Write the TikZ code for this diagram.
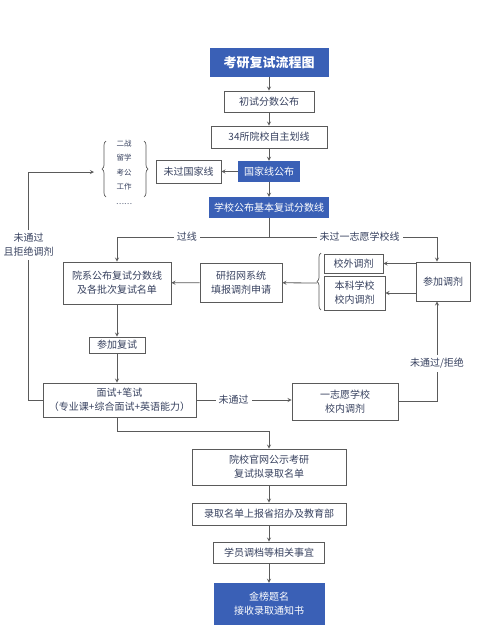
\documentclass[tikz,border=0pt]{standalone}
\usepackage{fontspec}
\setmainfont{Noto Sans CJK SC}
\usepackage{tikz}
\usetikzlibrary{decorations.pathreplacing}

\definecolor{flowblue}{RGB}{58,96,182}
\definecolor{flowline}{RGB}{90,90,90}
\definecolor{flowtext}{RGB}{55,65,95}

\tikzset{
  stepbox/.style={draw=flowline, line width=0.8pt, fill=white, text=flowtext,
    font=\fontsize{10}{14}\selectfont, align=center, inner sep=1pt},
  bluebox/.style={fill=flowblue, text=white,
    font=\fontsize{10}{14}\selectfont, align=center, inner sep=1pt},
  flow/.style={->, >=stealth, draw=flowline, line width=0.8pt},
  passlabel/.style={fill=white, text=flowtext, font=\fontsize{10}{14}\selectfont, align=center, inner sep=3pt},
  bracket/.style={draw=flowline, line width=0.7pt, decorate, decoration={brace, amplitude=4pt}}
}

\begin{document}
\begin{tikzpicture}[x=1pt, y=-1pt]
        \useasboundingbox[fill=white] (0,0) rectangle (487,635);

        % main column
        \node[bluebox, minimum width=119pt, minimum height=29pt, font=\fontsize{13}{15}\selectfont\bfseries] (title) at (269,62.5) {考研复试流程图};
        \node[stepbox, minimum width=90pt, minimum height=21pt] (chushi) at (269,101.5) {初试分数公布};
        \node[stepbox, minimum width=116pt, minimum height=22pt] (huaxian) at (269,137) {34所院校自主划线};
        \node[bluebox, minimum width=62pt, minimum height=21pt] (guojia) at (269,171.5) {国家线公布};
        \node[bluebox, minimum width=120pt, minimum height=21pt] (xuexiao) at (269,207.5) {学校公布基本复试分数线};

        % not passing the national line
        \node[stepbox, minimum width=65pt, minimum height=23pt] (weiguo) at (188.5,171.5) {未过国家线};
        \node[text=flowtext, font=\fontsize{7.5}{14.5}\selectfont, align=center] (options) at (124,172) {二战\\留学\\考公\\工作\\……};
        \draw[bracket] (106,197) -- (106,141);
        \draw[bracket] (144,141) -- (144,197);
        \coordinate (braceL) at (94,172);

        % passing the school line
        \coordinate (split) at (269,237);
        \node[stepbox, minimum width=108pt, minimum height=42pt] (yuanxi) at (117,283) {院系公布复试分数线\\及各批次复试名单};
        \node[stepbox, minimum width=82pt, minimum height=39pt] (yanzhao) at (241,282.5) {研招网系统\\填报调剂申请};
        \node[stepbox, minimum width=59pt, minimum height=19pt] (xiaowai) at (353.5,263.5) {校外调剂};
        \node[stepbox, minimum width=61pt, minimum height=34pt] (benke) at (354.5,293) {本科学校\\校内调剂};
        \node[stepbox, minimum width=54pt, minimum height=39pt] (canjiatj) at (443,281.5) {参加调剂};
        \draw[bracket] (321,310) -- (321,253);
        \coordinate (braceR) at (317,283);

        % retest
        \node[stepbox, minimum width=56pt, minimum height=16pt] (canjiafs) at (117,345) {参加复试};
        \node[stepbox, minimum width=153pt, minimum height=34pt] (mianshi) at (119.5,400) {面试+笔试\\（专业课+综合面试+英语能力）};
        \node[stepbox, minimum width=106pt, minimum height=37pt] (yizhiyuan) at (345,401.5) {一志愿学校\\校内调剂};

        % admission
        \node[stepbox, minimum width=154pt, minimum height=36pt] (gongshi) at (269,467) {院校官网公示考研\\复试拟录取名单};
        \node[stepbox, minimum width=154pt, minimum height=22pt] (shangbao) at (269,514) {录取名单上报省招办及教育部};
        \node[stepbox, minimum width=111pt, minimum height=21pt] (tiaodang) at (269,552.5) {学员调档等相关事宜};
        \node[bluebox, minimum width=111pt, minimum height=42pt] (jinbang) at (269,604) {金榜题名\\接收录取通知书};

        % connectors
        \draw[flow] (title) -- (chushi);
        \draw[flow] (chushi) -- (huaxian);
        \draw[flow] (huaxian) -- (guojia);
        \draw[flow] (guojia) -- (xuexiao);
        \draw[flow] (guojia) -- (weiguo);
        \draw[flow] (xuexiao) -- (split) -| (yuanxi) node[passlabel, pos=0.27] {过线};
        \draw[flow] (split) -| ([xshift=-6pt]canjiatj.north) node[passlabel, pos=0.27] {未过一志愿学校线};
        \draw[flow] (yanzhao) -- (yuanxi);
        \draw[flow] (braceR) -- (yanzhao);
        \draw[flow] (canjiatj.west |- xiaowai.east) -- (xiaowai.east);
        \draw[flow] (canjiatj.west |- benke.east) -- (benke.east);
        \draw[flow] (yuanxi) -- (canjiafs);
        \draw[flow] (canjiafs) -- (canjiafs |- mianshi.north);
        \draw[flow] (mianshi.east) -- (yizhiyuan.west |- mianshi.east) node[passlabel, pos=0.39] {未通过};
        \draw[flow] (yizhiyuan.east) -| ([xshift=-6pt]canjiatj.south) node[passlabel, pos=0.69] {未通过/拒绝};
        \draw[flow] (mianshi.west) -- ++(-14,0) |- (braceL) node[passlabel, pos=0.34] {未通过\\且拒绝调剂};
        \draw[flow] (mianshi.south -| canjiafs) -- ++(0,14) -| (gongshi.north);
        \draw[flow] (gongshi) -- (shangbao);
        \draw[flow] (shangbao) -- (tiaodang);
        \draw[flow] (tiaodang) -- (jinbang);

\end{tikzpicture}
\end{document}
